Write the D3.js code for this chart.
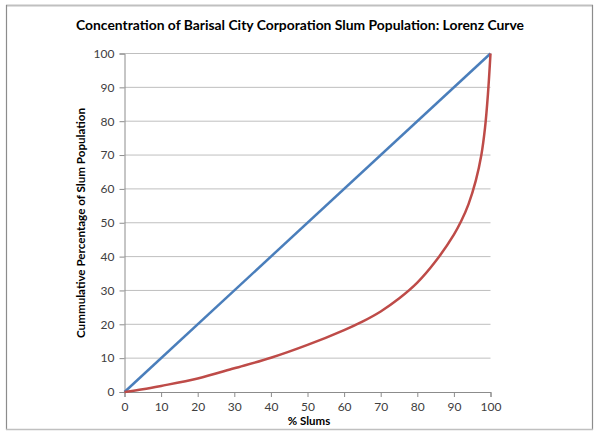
<!DOCTYPE html>
<html>
<head>
<meta charset="utf-8">
<script src="https://cdn.jsdelivr.net/npm/d3@7"></script>
<style>
  body { margin: 0; background: #fff; }
  text { font-family: Lato, "Open Sans", sans-serif; }
</style>
</head>
<body>
<svg id="chart" width="600" height="436"></svg>
<script>
// data
var slumPct = [0, 5, 10, 20, 30, 40, 50, 60, 65, 70, 75, 80, 85, 90, 92, 94, 96, 97.5, 98.5, 99.3, 100];
var popPct  = [0, 0.8, 1.8, 4.0, 7.0, 10.1, 13.9, 18.3, 20.8, 23.8, 27.6, 32.3, 38.6, 46.5, 50.5, 55.5, 62.5, 70.0, 78.0, 88.0, 100];
var equalityX = [0, 100];
var equalityY = [0, 100];
var tickVals = [0, 10, 20, 30, 40, 50, 60, 70, 80, 90, 100];

var svg = d3.select("#chart");

// outer frame
svg.append("line").attr("x1", 6).attr("y1", 5.5).attr("x2", 593).attr("y2", 5.5)
  .attr("stroke", "#c0c0c0").attr("stroke-width", 2);
svg.append("line").attr("x1", 6.5).attr("y1", 5).attr("x2", 6.5).attr("y2", 430)
  .attr("stroke", "#8c8c8c").attr("stroke-width", 1.2);
svg.append("line").attr("x1", 592.5).attr("y1", 5).attr("x2", 592.5).attr("y2", 430)
  .attr("stroke", "#8c8c8c").attr("stroke-width", 1.2);
svg.append("line").attr("x1", 6).attr("y1", 429.5).attr("x2", 593).attr("y2", 429.5)
  .attr("stroke", "#c0c0c0").attr("stroke-width", 1.5);

var xScale = d3.scaleLinear().domain([0, 100]).range([124.5, 490.5]);
var yScale = d3.scaleLinear().domain([0, 100]).range([392, 53.5]);

// gridlines
svg.append("g").selectAll("line")
  .data(tickVals.slice(1))
  .join("line")
  .attr("x1", xScale(0)).attr("x2", xScale(100))
  .attr("y1", d => yScale(d)).attr("y2", d => yScale(d))
  .attr("stroke", "#bfbfbf").attr("stroke-width", 1);

var yAxis = svg.append("g")
  .attr("transform", "translate(" + xScale(0) + ",0)")
  .call(d3.axisLeft(yScale).tickValues(tickVals).tickSize(5).tickPadding(5));
var xAxis = svg.append("g")
  .attr("transform", "translate(0," + yScale(0) + ")")
  .call(d3.axisBottom(xScale).tickValues(tickVals).tickSize(5).tickPadding(5));

[yAxis, xAxis].forEach(function(ax) {
  ax.select(".domain").attr("stroke", "#8c8c8c");
  ax.selectAll(".tick line").attr("stroke", "#8c8c8c");
  ax.selectAll(".tick text")
    .attr("fill", "#404040")
    .style("font-size", "12px")
    .style("font-family", "Lato, sans-serif");
});

// lines
var line = d3.line().x(d => xScale(d[0])).y(d => yScale(d[1]));

svg.append("path")
  .datum(equalityX.map((x, i) => [x, equalityY[i]]))
  .attr("d", line)
  .attr("fill", "none")
  .attr("stroke", "#4a7ebb")
  .attr("stroke-width", 2.5);

svg.append("path")
  .datum(slumPct.map((x, i) => [x, popPct[i]]))
  .attr("d", line.curve(d3.curveCatmullRom.alpha(0.5)))
  .attr("fill", "none")
  .attr("stroke", "#be4b48")
  .attr("stroke-width", 2.5);

// titles
svg.append("text")
  .attr("x", 300).attr("y", 30)
  .attr("text-anchor", "middle")
  .style("font-size", "14px").style("font-weight", "bold")
  .attr("textLength", 448).attr("lengthAdjust", "spacingAndGlyphs")
  .text("Concentration of Barisal City Corporation Slum Population:  Lorenz Curve");

svg.append("text")
  .attr("transform", "translate(85,223) rotate(-90)")
  .attr("text-anchor", "middle")
  .style("font-size", "12px").style("font-weight", "bold")
  .attr("textLength", 230).attr("lengthAdjust", "spacingAndGlyphs")
  .text("Cummulative Percentage of Slum Population");

svg.append("text")
  .attr("x", 309).attr("y", 425)
  .attr("text-anchor", "middle")
  .style("font-size", "11.5px").style("font-weight", "bold")
  .text("% Slums");
</script>
</body>
</html>
